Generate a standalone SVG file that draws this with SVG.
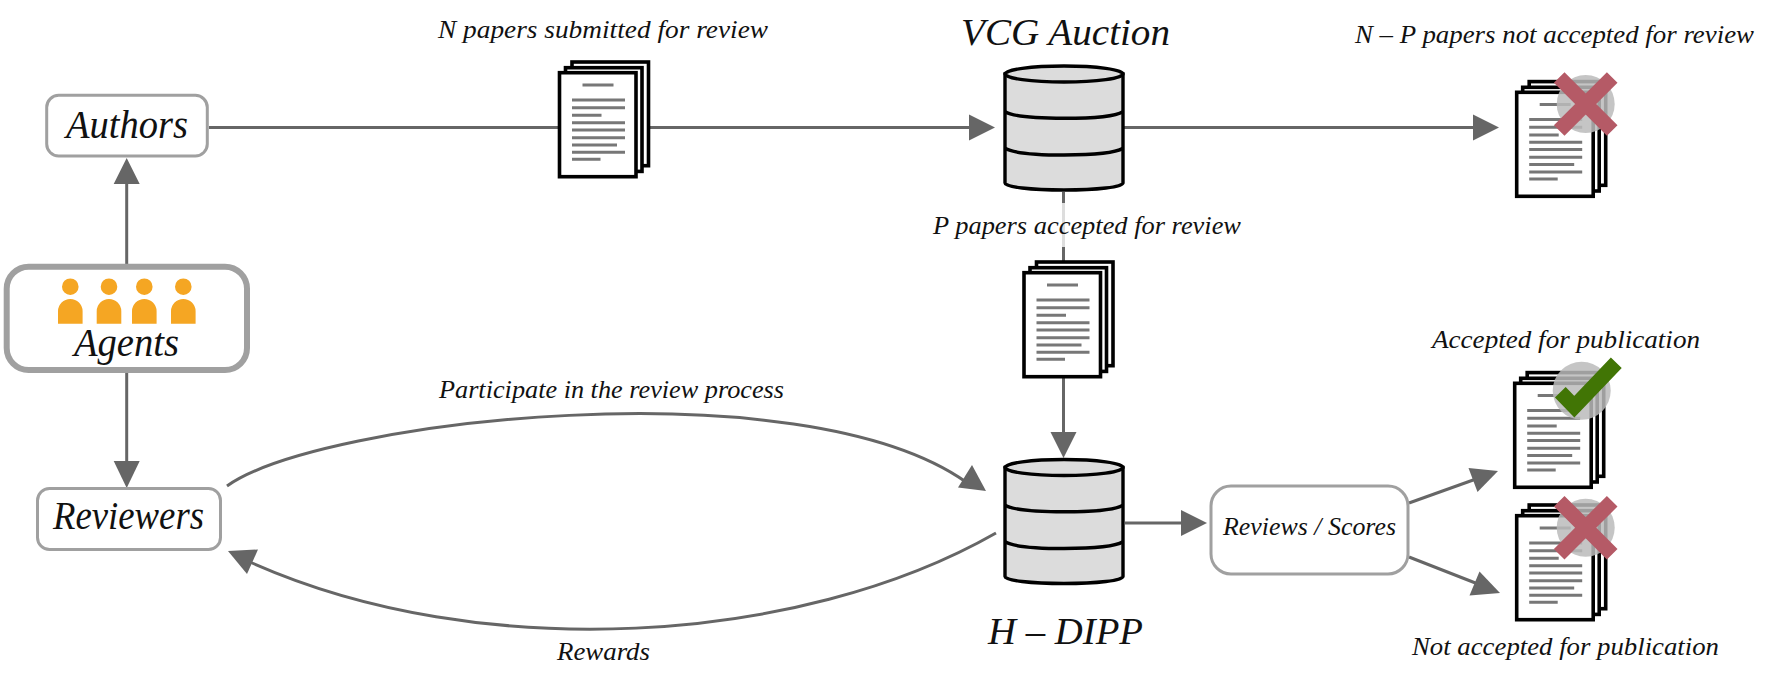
<svg xmlns="http://www.w3.org/2000/svg" xmlns:xlink="http://www.w3.org/1999/xlink" width="1771" height="690" viewBox="0 0 1771 690">
<style>
text{font-family:"Liberation Serif","Times New Roman",serif;font-style:italic;fill:#111}
.big{font-size:40px}.mid{font-size:38px}.sm{font-size:26px}
.box{fill:#fff;stroke:#a0a0a0;stroke-width:3}
.conn{fill:none;stroke:#666;stroke-width:3}
.head{fill:#666;stroke:none}
.pg{fill:#fff;stroke:#000;stroke-width:3.6}
.ln{stroke:#777;stroke-width:3;fill:none}
.cyl{fill:#dcdcdc;stroke:#000;stroke-width:3.4}
.arc{fill:none;stroke:#000;stroke-width:3.4}
.halo{fill:#bbb;opacity:.85}
.x{stroke:#b55a66;stroke-width:15;fill:none}
.person{fill:#f5a623}
</style>
<defs>
<g id="doc">
<rect class="pg" x="12.5" y="-10.7" width="76.5" height="103.7"/>
<rect class="pg" x="6" y="-5" width="76.5" height="103.7"/>
<rect class="pg" x="0" y="0" width="76.5" height="104"/>
<path class="ln" d="M23 12.3H54M12.5 27.3H65.5M12.5 35H65.5M12.5 42.6H42M12.5 50H65.5M12.5 57.3H65.5M12.5 65H65.5M12.5 72.3H57.5M12.5 79.6H65.5M12.5 86.6H41"/>
</g>
<g id="cylinder">
<path class="cyl" d="M1005 74V183C1005 187 1031 190 1064 190S1123 187 1123 183V74Z"/>
<ellipse class="cyl" cx="1064" cy="74" rx="59" ry="8"/>
<path class="arc" d="M1005 111.7C1012 116 1035 118.3 1064 118.3S1116 116 1123 111.7M1005 148.3C1012 152.5 1035 155 1064 155S1116 152.5 1123 148.3"/>
</g>
<g id="cross">
<circle class="halo" cx="0" cy="0" r="29"/>
<path class="x" d="M-26.500 -26.500L26.500 26.500M26.500 -26.500L-26.500 26.500"/>
</g>
<path id="person" class="person" d="M-12.300 37V24.500A12.300 12.300 0 0 1 12.300 24.500V37ZM8.300 0A8.300 8.300 0 1 1 -8.300 0A8.300 8.300 0 1 1 8.300 0Z"/>
</defs>
<rect width="1771" height="690" fill="#fff"/>
<g id="connectors">
<path class="conn" d="M126.700 266V182"/><path class="head" d="M126.700 158L139.700 184H113.700Z"/>
<path class="conn" d="M126.700 370V463"/><path class="head" d="M126.700 488L113.700 461H139.700Z"/>
<path class="conn" d="M209 127.500H560M649 127.500H971"/><path class="head" d="M995 127.500L969 114.500V140.500Z"/>
<path class="conn" d="M1124 127.500H1475"/><path class="head" d="M1499 127.500L1473 114.500V140.500Z"/>
<path class="conn" d="M1063.500 192V203M1063.500 247V262M1063.500 377V434"/>
<path d="M1063.500 203V247" fill="none" stroke="#ddd" stroke-width="3"/>
<path class="head" d="M1063.500 458L1050.500 432H1076.500Z"/>
<path class="conn" d="M227 486C320 420 800 365 966 482"/><path class="head" d="M986 491L958 487.500L972 465Z"/>
<path class="conn" d="M996 533C800 645 480 665 250 562"/><path class="head" d="M228 551L258 549.500L247 574Z"/>
<path class="conn" d="M1125 523H1183"/><path class="head" d="M1207 523L1181 510V536Z"/>
<path class="conn" d="M1409 503L1476 479"/><path class="head" d="M1498 471L1477.500 492L1468.500 468Z"/>
<path class="conn" d="M1409 557L1478 584"/><path class="head" d="M1500 593L1469.500 595.500L1479.500 571.500Z"/>
</g>
<g id="authors"><rect class="box" x="46.700" y="95.300" width="160.600" height="60.700" rx="12"/><text class="big" x="66" y="138" textLength="122" lengthAdjust="spacingAndGlyphs">Authors</text></g>
<g id="agents"><rect x="6.700" y="266.700" width="240.300" height="103.300" rx="22" fill="#fff" stroke="#a0a0a0" stroke-width="6"/>
<use xlink:href="#person" href="#person" x="70.300" y="286.700"/><use xlink:href="#person" href="#person" x="109" y="286.700"/><use xlink:href="#person" href="#person" x="144.300" y="286.700"/><use xlink:href="#person" href="#person" x="183.300" y="286.700"/>
<text class="big" x="74" y="356" textLength="105" lengthAdjust="spacingAndGlyphs">Agents</text></g>
<g id="reviewers"><rect class="box" x="37.500" y="488.500" width="183" height="61" rx="12"/><text class="big" x="53" y="529" textLength="151" lengthAdjust="spacingAndGlyphs">Reviewers</text></g>
<g id="doc-submitted"><use xlink:href="#doc" href="#doc" x="559.500" y="72.700"/></g>
<g id="vcg-auction"><use xlink:href="#cylinder" href="#cylinder"/><text class="mid" x="961" y="45" textLength="209" lengthAdjust="spacingAndGlyphs">VCG Auction</text></g>
<g id="doc-accepted"><use xlink:href="#doc" href="#doc" x="1024" y="272.700"/></g>
<g id="h-dipp"><use xlink:href="#cylinder" href="#cylinder" y="393.500"/><text class="mid" x="988" y="644" textLength="155" lengthAdjust="spacingAndGlyphs">H – DIPP</text></g>
<g id="reviews-scores"><rect class="box" x="1211" y="486" width="197" height="88" rx="20"/><text class="sm" x="1223" y="535" textLength="173" lengthAdjust="spacingAndGlyphs">Reviews / Scores</text></g>
<g id="doc-rejected"><use xlink:href="#doc" href="#doc" x="1516.700" y="92.300"/><use xlink:href="#cross" href="#cross" x="1585.700" y="104"/></g>
<g id="doc-published"><use xlink:href="#doc" href="#doc" x="1514.700" y="383.300"/><circle class="halo" cx="1581.700" cy="390.700" r="29"/><path d="M1560.300 392.300L1574.300 406.700L1616.300 362.700" fill="none" stroke="#417505" stroke-width="15"/></g>
<g id="doc-not-published"><use xlink:href="#doc" href="#doc" x="1516.700" y="515.700"/><use xlink:href="#cross" href="#cross" x="1585.700" y="527.700"/></g>
<g id="labels">
<text class="sm" x="438" y="38" textLength="330" lengthAdjust="spacingAndGlyphs">N papers submitted for review</text>
<text class="sm" x="1355" y="43" textLength="399" lengthAdjust="spacingAndGlyphs">N – P papers not accepted for review</text>
<text class="sm" x="933" y="234" textLength="308" lengthAdjust="spacingAndGlyphs">P papers accepted for review</text>
<text class="sm" x="1432" y="348" textLength="268" lengthAdjust="spacingAndGlyphs">Accepted for publication</text>
<text class="sm" x="1412" y="655" textLength="307" lengthAdjust="spacingAndGlyphs">Not accepted for publication</text>
<text class="sm" x="439" y="398" textLength="345" lengthAdjust="spacingAndGlyphs">Participate in the review process</text>
<text class="sm" x="557" y="660" textLength="93" lengthAdjust="spacingAndGlyphs">Rewards</text>
</g>
</svg>
